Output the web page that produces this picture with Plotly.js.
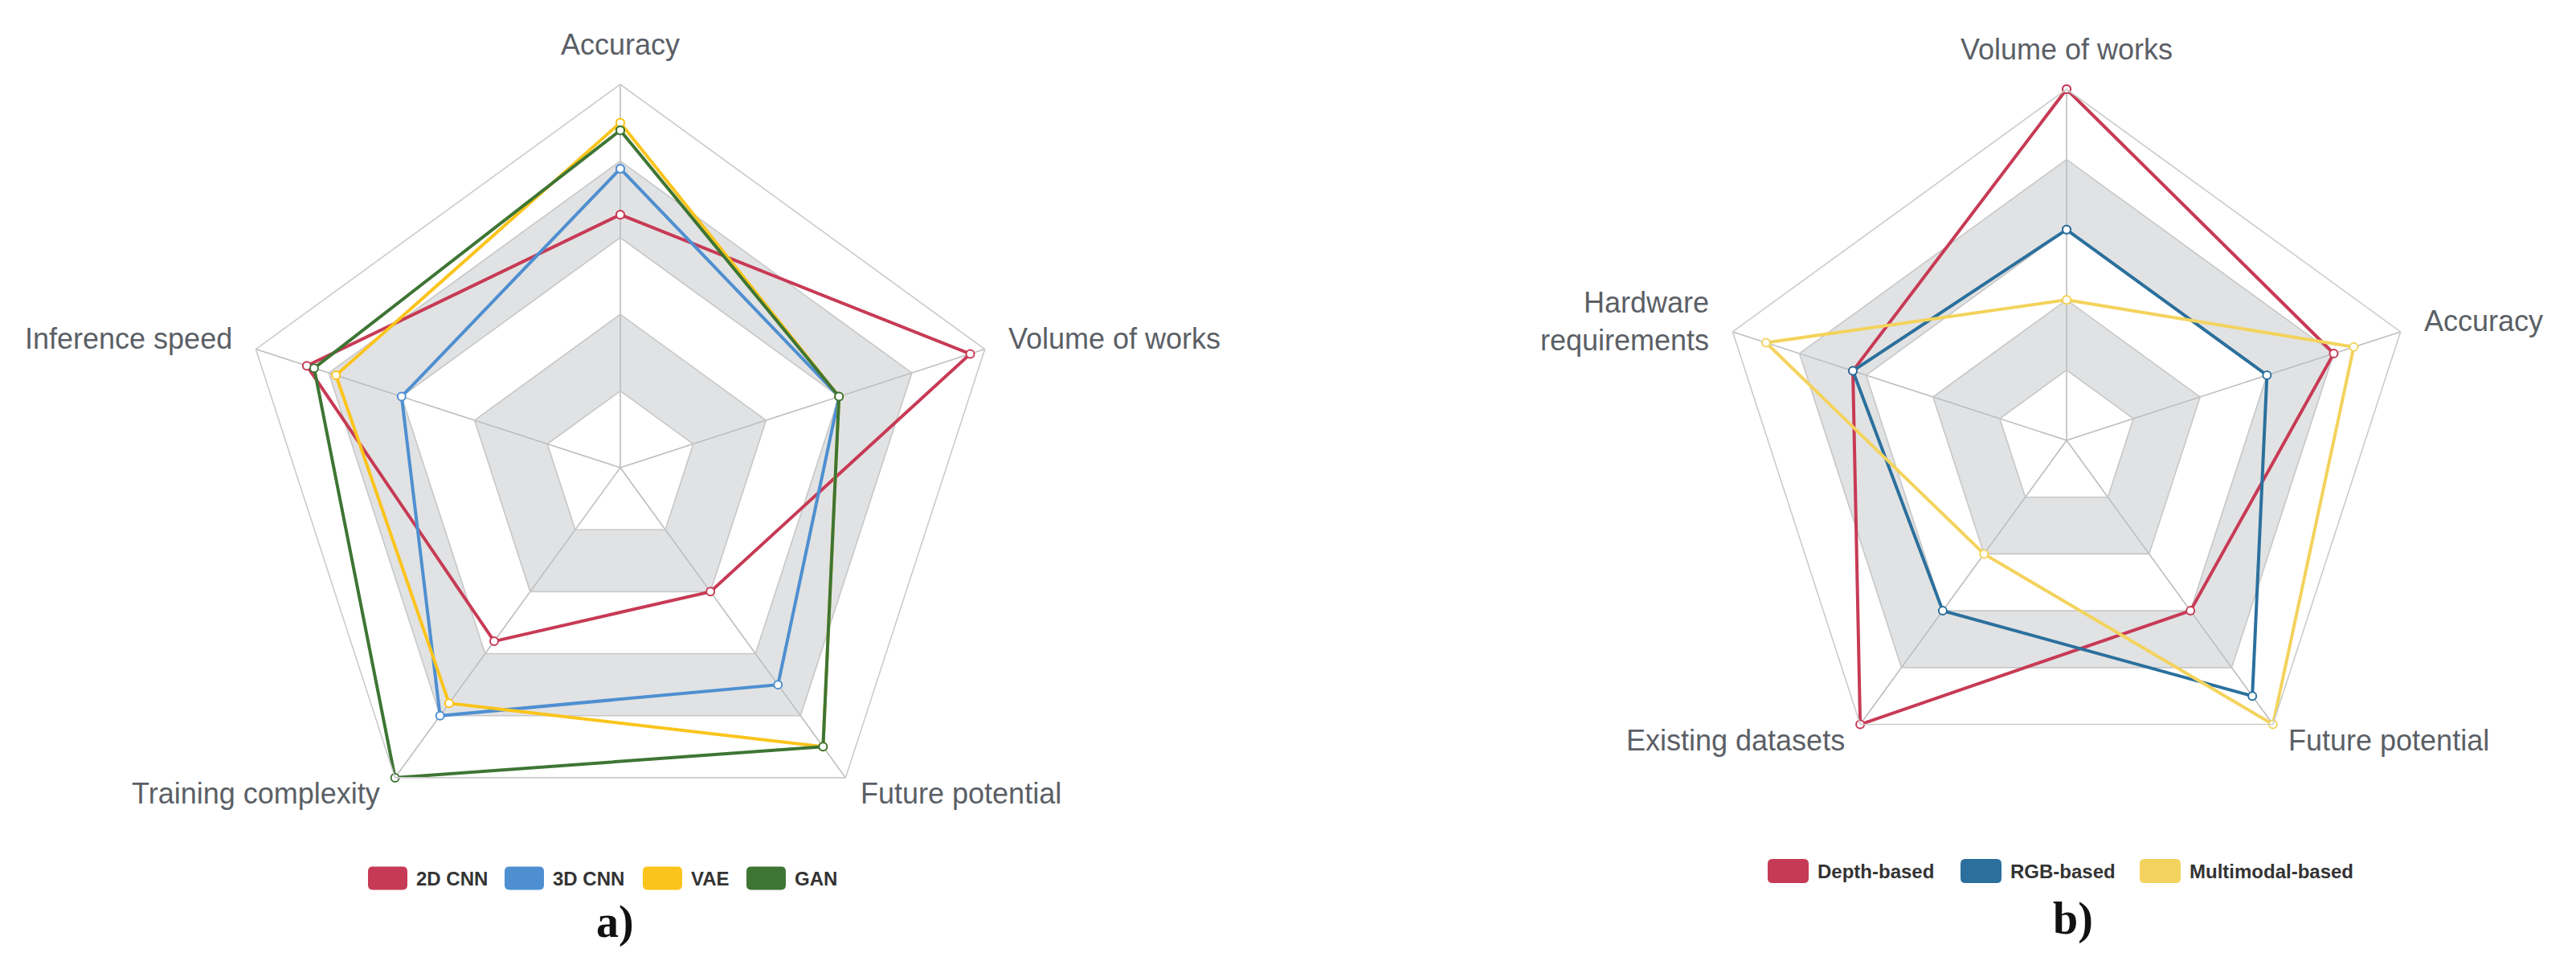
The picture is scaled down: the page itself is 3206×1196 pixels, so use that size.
<!DOCTYPE html>
<html>
<head>
<meta charset="utf-8">
<script src="https://cdn.plot.ly/plotly-3.0.1.min.js"></script>
<style>
  html, body { margin: 0; padding: 0; background: #fff; }
  #chart { width: 3206px; height: 1196px; }
</style>
</head>
<body>
<div id="chart"></div>
<script>
// ---- data: panel a) deep learning model families ----
const axesA = ["Accuracy", "Volume of works", "Future potential", "Training complexity", "Inference speed"];
const namesA = ["2D CNN", "3D CNN", "VAE", "GAN"];
const cnn2d = [3.3, 4.8, 2.0, 2.8, 4.3];
const cnn3d = [3.9, 3.0, 3.5, 4.0, 3.0];
const vae = [4.5, 3.0, 4.5, 3.8, 3.9];
const gan = [4.4, 3.0, 4.5, 5.0, 4.2];

// ---- data: panel b) input modality ----
const axesB = ["Volume of works", "Accuracy", "Future potential", "Existing datasets", "Hardware<br>requirements"];
const namesB = ["Depth-based", "RGB-based", "Multimodal-based"];
const depthBased = [5.0, 4.0, 3.0, 5.0, 3.2];
const rgbBased = [3.0, 3.0, 4.5, 3.0, 3.2];
const multimodalBased = [2.0, 4.3, 5.0, 2.0, 4.5];

const colorsA = ["#c73a55", "#4e8fd1", "#fbc41c", "#3e7534"];
const colorsB = ["#c73a55", "#2b709d", "#f3d35d"];

const W = 3206, H = 1196;
const FONT = "Liberation Sans, Arial, sans-serif";

// panel geometry in pixels (centre + outer radius)
const geoA = {cx: 772, cy: 582, r: 477};
const geoB = {cx: 2572, cy: 548, r: 437};

// pixel centre + radius -> polar domain
function dom(g) {
  return {
    x: [(g.cx - g.r) / W, (g.cx + g.r) / W],
    y: [1 - (g.cy + g.r) / H, 1 - (g.cy - g.r) / H]
  };
}

// grey split bands (like the echarts radar splitArea), outer ring then inner ring reversed = hole
function band(cats, rIn, rOut, subplot) {
  const outer = cats.concat([cats[0]]);
  const inner = [cats[0]].concat(cats.slice(1).reverse(), [cats[0]]);
  return {
    type: "scatterpolar",
    subplot: subplot,
    theta: outer.concat(inner),
    r: outer.map(() => rOut).concat(inner.map(() => rIn)),
    mode: "lines",
    fill: "toself",
    fillcolor: "rgba(188,190,194,0.45)",
    line: {width: 0, color: "rgba(0,0,0,0)"},
    hoverinfo: "skip",
    showlegend: false
  };
}

function series(cats, vals, name, color, subplot) {
  return {
    type: "scatterpolar",
    subplot: subplot,
    name: name,
    theta: cats.concat([cats[0]]),
    r: vals.concat([vals[0]]),
    mode: "lines+markers",
    line: {color: color, width: 4},
    marker: {size: 10, color: "#ffffff", line: {color: color, width: 2}},
    showlegend: false
  };
}

const traces = [
  band(axesA, 1, 2, "polar"), band(axesA, 3, 4, "polar"),
  band(axesB, 1, 2, "polar2"), band(axesB, 3, 4, "polar2"),
  series(axesA, cnn2d, namesA[0], colorsA[0], "polar"),
  series(axesA, cnn3d, namesA[1], colorsA[1], "polar"),
  series(axesA, vae, namesA[2], colorsA[2], "polar"),
  series(axesA, gan, namesA[3], colorsA[3], "polar"),
  series(axesB, depthBased, namesB[0], colorsB[0], "polar2"),
  series(axesB, rgbBased, namesB[1], colorsB[1], "polar2"),
  series(axesB, multimodalBased, namesB[2], colorsB[2], "polar2")
];

function polarLayout(cats, g) {
  return {
    domain: dom(g),
    bgcolor: "rgba(0,0,0,0)",
    gridshape: "linear",
    radialaxis: {
      range: [0, 5], tick0: 0, dtick: 1,
      showticklabels: false, ticks: "", showline: false,
      gridcolor: "#cbcbcb", gridwidth: 1.6
    },
    angularaxis: {
      type: "category", categoryarray: cats,
      rotation: 90, direction: "clockwise",
      gridcolor: "#bdbdbd", gridwidth: 1.6,
      showline: true, linecolor: "#cbcbcb", linewidth: 1.6,
      ticks: "", showticklabels: false
    }
  };
}

const shapes = [];
const annotations = [];

// indicator names placed outside each vertex, echarts style
function axisNames(cats, g) {
  const gap = 29;
  cats.forEach((c, i) => {
    const ang = Math.PI / 2 - i * 2 * Math.PI / cats.length;
    const cos = Math.cos(ang), sin = Math.sin(ang);
    const vx = g.cx + g.r * cos, vy = g.cy - g.r * sin;
    let dy = -sin * gap - 4;
    if (sin > 0.99) dy -= 16;
    annotations.push({
      xref: "paper", yref: "paper",
      x: (vx + cos * gap) / W, y: 1 - (vy + dy) / H,
      xanchor: Math.abs(cos) < 0.1 ? "center" : (cos > 0 ? "left" : "right"),
      yanchor: "middle", align: cos < -0.1 ? "right" : "left",
      showarrow: false, text: c,
      font: {family: FONT, size: 36, color: "#5b5f66"}
    });
  });
}
axisNames(axesA, geoA);
axisNames(axesB, geoB);

// custom legend: rounded swatches + bold labels, like the echarts legend
function roundRect(x0, y0, w, h, rad) {
  const px = (x) => (x / W).toFixed(5);
  const py = (y) => (1 - y / H).toFixed(5);
  const x1 = x0 + w, y1 = y0 + h;
  return "M" + px(x0 + rad) + "," + py(y0) +
    " L" + px(x1 - rad) + "," + py(y0) +
    " Q" + px(x1) + "," + py(y0) + " " + px(x1) + "," + py(y0 + rad) +
    " L" + px(x1) + "," + py(y1 - rad) +
    " Q" + px(x1) + "," + py(y1) + " " + px(x1 - rad) + "," + py(y1) +
    " L" + px(x0 + rad) + "," + py(y1) +
    " Q" + px(x0) + "," + py(y1) + " " + px(x0) + "," + py(y1 - rad) +
    " L" + px(x0) + "," + py(y0 + rad) +
    " Q" + px(x0) + "," + py(y0) + " " + px(x0 + rad) + "," + py(y0) + " Z";
}
function addLegend(names, colors, xs, yc, w, h) {
  names.forEach((name, i) => {
    shapes.push({
      type: "path", xref: "paper", yref: "paper",
      path: roundRect(xs[i], yc - h / 2, w, h, 6),
      fillcolor: colors[i], line: {width: 0}
    });
    annotations.push({
      xref: "paper", yref: "paper",
      x: (xs[i] + w + 9) / W, y: 1 - yc / H,
      xanchor: "left", yanchor: "middle", showarrow: false,
      text: "<b>" + name + "</b>",
      font: {family: FONT, size: 24, color: "#333333"}
    });
  });
}
addLegend(namesA, colorsA, [458, 628, 800, 929], 1093, 49, 29);
addLegend(namesB, colorsB, [2200, 2440, 2663], 1084, 51, 30);

annotations.push({
  xref: "paper", yref: "paper", x: 765 / W, y: 1 - 1147 / H,
  xanchor: "center", yanchor: "middle", showarrow: false,
  text: "<b>a)</b>", font: {family: "Liberation Serif, Times New Roman, serif", size: 56, color: "#111"}
});
annotations.push({
  xref: "paper", yref: "paper", x: 2580 / W, y: 1 - 1143 / H,
  xanchor: "center", yanchor: "middle", showarrow: false,
  text: "<b>b)</b>", font: {family: "Liberation Serif, Times New Roman, serif", size: 56, color: "#111"}
});

const layout = {
  width: W, height: H,
  margin: {l: 0, r: 0, t: 0, b: 0},
  paper_bgcolor: "#ffffff",
  showlegend: false,
  font: {family: FONT},
  polar: polarLayout(axesA, geoA),
  polar2: polarLayout(axesB, geoB),
  shapes: shapes,
  annotations: annotations
};

Plotly.newPlot("chart", traces, layout, {displayModeBar: false, staticPlot: true});
</script>
</body>
</html>
